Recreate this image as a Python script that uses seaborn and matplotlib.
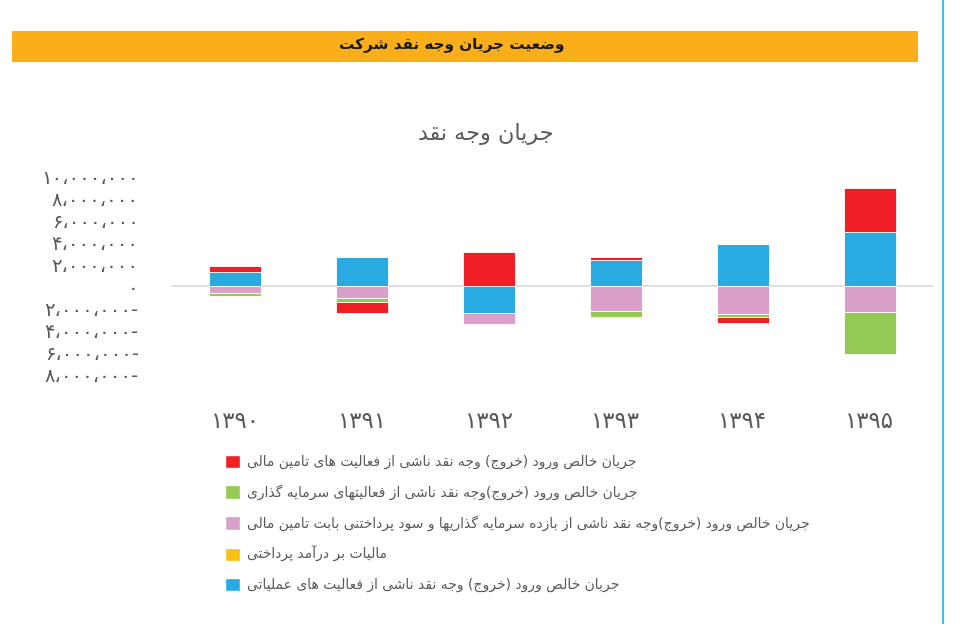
import matplotlib
matplotlib.use("Agg")
import matplotlib.pyplot as plt
from matplotlib.patches import Rectangle, Patch
from matplotlib.lines import Line2D
from matplotlib.ticker import FuncFormatter, MultipleLocator
import seaborn as sns

# ---- data (values in rials) ----
years = ["1390", "1391", "1392", "1393", "1394", "1395"]
operating = [1260000, 2600000, -2460000, 2400000, 3840000, 4920000]
income_tax = [0, 0, 0, 0, 0, 0]
returns_interest = [-660000, -1080000, -1020000, -2290000, -2520000, -2340000]
investing = [-220000, -390000, 0, -540000, -270000, -3820000]
financing = [540000, -960000, 3130000, 270000, -540000, 4030000]

header_text = "وضعیت جریان وجه نقد شرکت"
chart_title = "جریان وجه نقد"
label_financing = "جریان خالص ورود (خروج) وجه نقد ناشی از فعالیت های تامین مالی"
label_investing = "جریان خالص ورود (خروج)وجه نقد ناشی از فعالیتهای سرمایه گذاری"
label_returns = "جریان خالص ورود (خروج)وجه نقد ناشی از بازده سرمایه گذاریها و سود پرداختنی بابت تامین مالی"
label_tax = "مالیات بر درآمد پرداختی"
label_operating = "جریان خالص ورود (خروج) وجه نقد ناشی از فعالیت های عملیاتی"

# ---- minimal arabic shaping (matplotlib does no shaping / bidi) ----
# isolated, final, initial, medial
FORMS = {
    "ا": ("\uFE8D", "\uFE8E", None, None),
    "آ": ("\uFE81", "\uFE82", None, None),
    "ب": ("\uFE8F", "\uFE90", "\uFE91", "\uFE92"),
    "پ": ("\uFB56", "\uFB57", "\uFB58", "\uFB59"),
    "ت": ("\uFE95", "\uFE96", "\uFE97", "\uFE98"),
    "ج": ("\uFE9D", "\uFE9E", "\uFE9F", "\uFEA0"),
    "ح": ("\uFEA1", "\uFEA2", "\uFEA3", "\uFEA4"),
    "خ": ("\uFEA5", "\uFEA6", "\uFEA7", "\uFEA8"),
    "د": ("\uFEA9", "\uFEAA", None, None),
    "ذ": ("\uFEAB", "\uFEAC", None, None),
    "ر": ("\uFEAD", "\uFEAE", None, None),
    "ز": ("\uFEAF", "\uFEB0", None, None),
    "س": ("\uFEB1", "\uFEB2", "\uFEB3", "\uFEB4"),
    "ش": ("\uFEB5", "\uFEB6", "\uFEB7", "\uFEB8"),
    "ص": ("\uFEB9", "\uFEBA", "\uFEBB", "\uFEBC"),
    "ض": ("\uFEBD", "\uFEBE", "\uFEBF", "\uFEC0"),
    "ع": ("\uFEC9", "\uFECA", "\uFECB", "\uFECC"),
    "ف": ("\uFED1", "\uFED2", "\uFED3", "\uFED4"),
    "ق": ("\uFED5", "\uFED6", "\uFED7", "\uFED8"),
    "ک": ("\uFB8E", "\uFB8F", "\uFB90", "\uFB91"),
    "گ": ("\uFB92", "\uFB93", "\uFB94", "\uFB95"),
    "ل": ("\uFEDD", "\uFEDE", "\uFEDF", "\uFEE0"),
    "م": ("\uFEE1", "\uFEE2", "\uFEE3", "\uFEE4"),
    "ن": ("\uFEE5", "\uFEE6", "\uFEE7", "\uFEE8"),
    "ه": ("\uFEE9", "\uFEEA", "\uFEEB", "\uFEEC"),
    "و": ("\uFEED", "\uFEEE", None, None),
    "ی": ("\uFBFC", "\uFBFD", "\uFBFE", "\uFBFF"),
}
MIRROR = {"(": ")", ")": "("}


def rtl(text):
    out = []
    for i, ch in enumerate(text):
        if ch not in FORMS:
            out.append(MIRROR.get(ch, ch))
            continue
        prev = text[i - 1] if i > 0 else ""
        nxt = text[i + 1] if i + 1 < len(text) else ""
        join_prev = prev in FORMS and FORMS[prev][2] is not None
        join_next = nxt in FORMS and FORMS[ch][2] is not None
        iso, fin, ini, med = FORMS[ch]
        if join_prev and join_next:
            out.append(med)
        elif join_prev:
            out.append(fin)
        elif join_next:
            out.append(ini)
        else:
            out.append(iso)
    return "".join(reversed(out))


FA_DIGITS = str.maketrans("0123456789", "۰۱۲۳۴۵۶۷۸۹")


def fa_number(v, pos=None):
    s = f"{abs(v):,.0f}".replace(",", "،").translate(FA_DIGITS)
    return s + "-" if v < 0 else s


# ---- plot ----
sns.set_style("white")
plt.rcParams["font.family"] = ["DejaVu Sans"]
gray = "#595959"

fig = plt.figure(figsize=(9.71, 6.24), dpi=100)
ax = fig.add_axes([172 / 971, 1 - 374 / 624, (933 - 172) / 971, (374 - 176) / 624])

# stack order from the zero line outward: operating, tax, returns, investing, financing
series = [
    (operating, "#29ABE2"),
    (income_tax, "#FDC010"),
    (returns_interest, "#DBA0C9"),
    (investing, "#94C954"),
    (financing, "#EE1F25"),
]
pos_base = [0.0] * len(years)
neg_base = [0.0] * len(years)
fa_years = [y.translate(FA_DIGITS) for y in years]
for values, color in series:
    bottoms = [pos_base[i] if v >= 0 else neg_base[i] for i, v in enumerate(values)]
    sns.barplot(x=fa_years, y=values, bottom=bottoms, color=color, width=0.41,
                order=fa_years, errorbar=None, saturation=1, ax=ax,
                edgecolor="white", linewidth=0.6)
    for i, v in enumerate(values):
        if v >= 0:
            pos_base[i] += v
        else:
            neg_base[i] += v

ax.set_ylim(-8000000, 10000000)
ax.set_xlim(-0.5, len(years) - 0.5)
ax.axhline(0, color="#D9D9D9", linewidth=1.2, zorder=0)
ax.yaxis.set_major_locator(MultipleLocator(2000000))
ax.yaxis.set_major_formatter(FuncFormatter(fa_number))
ax.tick_params(axis="y", labelsize=14, labelcolor=gray, pad=24, length=0)
ax.tick_params(axis="x", labelsize=16.5, labelcolor=gray, pad=26, length=0)
ax.set_xlabel("")
ax.set_ylabel("")
sns.despine(ax=ax, left=True, bottom=True)

# header bar and decorations
fig.patches.append(Rectangle((12 / 971, 1 - 62 / 624), (918 - 12) / 971, 31 / 624,
                             transform=fig.transFigure, facecolor="#F9AE1A",
                             edgecolor="none", zorder=0))
fig.text(452 / 971, 1 - 45 / 624, rtl(header_text), ha="center", va="center",
         fontsize=11, fontweight="bold", color="#1a1a1a")
fig.lines.append(Line2D([943 / 971, 943 / 971], [0, 1], transform=fig.transFigure,
                        color="#3FC0E8", linewidth=1.5))
fig.text(486 / 971, 1 - 134 / 624, rtl(chart_title), ha="center", va="center",
         fontsize=16, color=gray)

# legend
handles = [
    Patch(facecolor="#EE1F25", label=rtl(label_financing)),
    Patch(facecolor="#94C954", label=rtl(label_investing)),
    Patch(facecolor="#DBA0C9", label=rtl(label_returns)),
    Patch(facecolor="#FDC010", label=rtl(label_tax)),
    Patch(facecolor="#29ABE2", label=rtl(label_operating)),
]
fig.legend(handles=handles, loc="upper left", bbox_to_anchor=(212 / 971, 1 - 442 / 624),
           frameon=False, fontsize=10, labelcolor=gray, handlelength=1.1,
           handleheight=1.1, handletextpad=0.55, labelspacing=1.1)

fig.savefig("out.png", dpi=100)
